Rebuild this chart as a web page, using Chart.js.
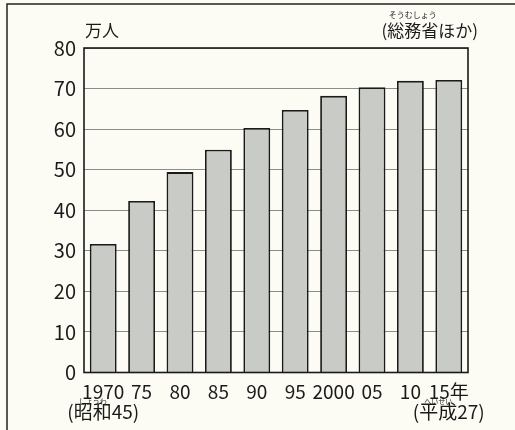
<!DOCTYPE html>
<html>
<head>
<meta charset="utf-8">
<script src="https://cdn.jsdelivr.net/npm/chart.js@4"></script>
<style>
  html, body { margin: 0; padding: 0; background: #fcfcf5; }
  #wrap { width: 515px; height: 430px; }
</style>
</head>
<body>
<div id="wrap"><canvas id="grafico" width="515" height="430"></canvas></div>
<script>
// ===== Data =====
const anos = ['1970', '75', '80', '85', '90', '95', '2000', '05', '10', '15年'];
const subLabels = ['(昭和45)', '', '', '', '', '', '', '', '', '(平成27)'];
const rubys = ['しょうわ', '', '', '', '', '', '', '', '', 'へいせい'];
const valores = [31.7, 42.3, 49.4, 54.9, 60.3, 64.7, 68.2, 70.3, 71.9, 72.1];
const yTicks = [0, 10, 20, 30, 40, 50, 60, 70, 80];

const FONT = "'Noto Sans CJK JP', 'Noto Sans', sans-serif";

// ===== Plugin: frame, border, labels =====
const extras = {
  id: 'extras',
  beforeDraw(chart) {
    const ctx = chart.ctx;
    ctx.save();
    ctx.fillStyle = '#fcfcf5';
    ctx.fillRect(0, 0, chart.width, chart.height);
    ctx.strokeStyle = '#222';
    ctx.lineWidth = 1.5;
    ctx.beginPath();
    ctx.moveTo(7, chart.height);
    ctx.lineTo(7, 4);
    ctx.lineTo(chart.width, 4);
    ctx.stroke();
    ctx.restore();
  },
  afterDraw(chart) {
    const { ctx, chartArea: a } = chart;
    ctx.save();
    ctx.strokeStyle = '#1a1a1a';
    ctx.lineWidth = 1.6;
    ctx.strokeRect(a.left, a.top, a.right - a.left, a.bottom - a.top);

    // unit
    ctx.fillStyle = '#1a1a1a';
    ctx.font = '17px ' + FONT;
    ctx.textBaseline = 'middle';
    ctx.textAlign = 'left';
    ctx.fillText('万人', a.left + 1, a.top - 17);

    // source
    ctx.textAlign = 'right';
    const fonte = '(総務省ほか)';
    const xr = a.right + 10;
    ctx.fillText(fonte, xr, a.top - 17);
    const wAll = ctx.measureText(fonte).width;
    const wPar = ctx.measureText('(').width;
    const wKanji = ctx.measureText('総務省').width;
    ctx.font = '8px ' + FONT;
    ctx.textAlign = 'center';
    ctx.fillText('そうむしょう', xr - wAll + wPar + wKanji / 2, a.top - 33);

    // ruby on second line of x labels
    const xs = chart.scales.x;
    subLabels.forEach((s, i) => {
      if (!s) return;
      const x = xs.getPixelForTick(i);
      ctx.font = '19px ' + FONT;
      const w = ctx.measureText(s).width;
      const p = ctx.measureText('(').width;
      const k = ctx.measureText(s.slice(1, 3)).width;
      ctx.font = '7px ' + FONT;
      ctx.textAlign = 'center';
      ctx.fillText(rubys[i], x - w / 2 + p + k / 2, a.bottom + 29);
    });
    ctx.restore();
  }
};

// ===== Chart =====
new Chart(document.getElementById('grafico'), {
  type: 'bar',
  data: {
    labels: anos.map((a, i) => subLabels[i] ? [a, subLabels[i]] : a),
    datasets: [{
      data: valores,
      backgroundColor: '#c9ccc6',
      borderColor: '#1a1a1a',
      borderWidth: 1.8,
      categoryPercentage: 1,
      barPercentage: 0.7
    }]
  },
  plugins: [extras],
  options: {
    responsive: false,
    animation: false,
    layout: { padding: { left: 0, right: 47, top: 48, bottom: 0 } },
    plugins: { legend: { display: false }, tooltip: { enabled: false } },
    scales: {
      x: {
        grid: { display: false, drawTicks: false },
        border: { display: false },
        ticks: {
          color: '#1a1a1a',
          font: { family: FONT, size: 19, lineHeight: 1.05 },
          padding: 9,
          maxRotation: 0,
          autoSkip: false
        },
        afterFit: (s) => { s.height = 57.5; }
      },
      y: {
        min: 0,
        max: 80,
        afterBuildTicks: (s) => { s.ticks = yTicks.map(v => ({ value: v })); },
        grid: { color: '#8c8c8c', lineWidth: 1, drawTicks: false },
        border: { display: false },
        ticks: {
          color: '#1a1a1a',
          font: { family: FONT, size: 20 },
          padding: 8
        },
        afterFit: (s) => { s.width = 84; }
      }
    }
  }
});
</script>
</body>
</html>
